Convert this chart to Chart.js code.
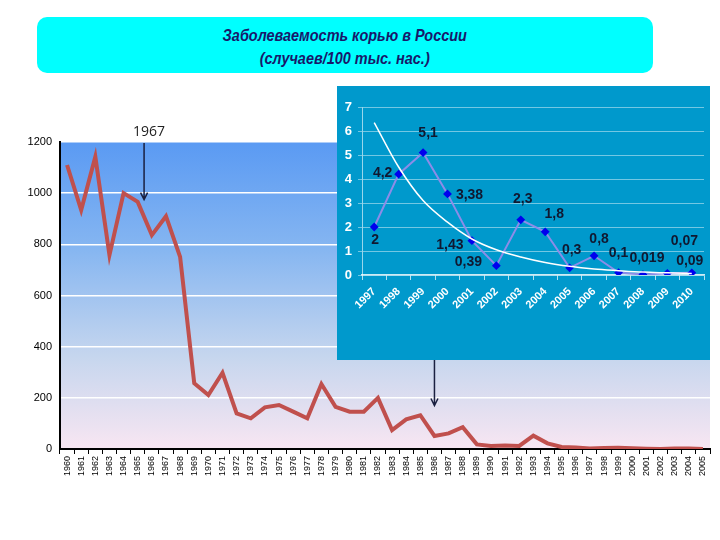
<!DOCTYPE html>
<html>
<head>
<meta charset="utf-8">
<script src="https://cdn.jsdelivr.net/npm/chart.js@4/dist/chart.umd.min.js"></script>
<style>
  body { margin: 0; width: 720px; height: 540px; background: #fff; position: relative; overflow: hidden; font-family: Arial, "Liberation Sans", sans-serif; }
  #title { position: absolute; left: 37px; top: 17px; width: 616px; height: 56px; background: #00ffff; border-radius: 10px;
           color: #18186a; font: italic bold 17px Arial, "Liberation Sans", sans-serif; line-height: 23px; text-align: center; padding-top: 7px; box-sizing: border-box; }
  #title span { display: inline-block; transform: scaleX(0.85); }
  #mainWrap { position: absolute; left: 0; top: 0; width: 720px; height: 540px; }
  #insetWrap { position: absolute; left: 337px; top: 86px; width: 373px; height: 274px; background: #0099cc; }
</style>
</head>
<body>
<div id="mainWrap"><canvas id="mainChart" width="720" height="540"></canvas></div>
<div id="title"><span>Заболеваемость корью в России<br>(случаев/100 тыс. нас.)</span></div>
<div id="insetWrap"><canvas id="insetChart" width="373" height="274"></canvas></div>
<script>
// Main chart data: 1960-2005
const years = [];
for (let y = 1960; y <= 2005; y++) years.push(String(y));
const incidence = [
  1110, 934, 1142, 758, 1000, 966, 836, 910, 751, 257,
  211, 298, 139, 120, 163, 172, 146, 120, 254, 165,
  146, 146, 200, 74, 116, 132, 51, 61, 85, 18,
  12, 14, 12, 52, 22, 8, 6, 2, 4.2, 5.1,
  3.38, 1.43, 0.39, 2.3, 1.8, 0.3
];

// Inset data: 1997-2010
const insetYears = ['1997', '1998', '1999', '2000', '2001', '2002', '2003', '2004', '2005', '2006', '2007', '2008', '2009', '2010'];
const insetValues = [2, 4.2, 5.1, 3.38, 1.43, 0.39, 2.3, 1.8, 0.3, 0.8, 0.1, 0.019, 0.07, 0.09];
const trendValues = [6.35, 4.5, 3.1, 2.2, 1.5, 1.05, 0.75, 0.52, 0.36, 0.25, 0.18, 0.12, 0.09, 0.06];
// label offsets (dx, dy) from each point
const labelOffsets = [[1, 13], [-16, -1], [5, -19], [22, 1], [-22, 4], [-28, -3], [2, -21],
  [9, -18], [2, -18], [5, -17], [0, -19], [4, -16], [17, -32], [-2, -12]];

// gradient behind the main plot area
const bgPlugin = {
  id: 'bg',
  beforeDraw(chart) {
    const a = chart.chartArea, ctx = chart.ctx;
    const g = ctx.createLinearGradient(0, a.top, 0, a.bottom);
    g.addColorStop(0, '#5a9af3');
    g.addColorStop(0.35, '#86b6f1');
    g.addColorStop(0.7, '#c6d6ee');
    g.addColorStop(1, '#f8e6f2');
    ctx.save();
    ctx.fillStyle = g;
    ctx.fillRect(a.left, a.top, a.right - a.left, a.bottom - a.top);
    ctx.restore();
  }
};

function arrow(ctx, x, y1, y2) {
  ctx.beginPath();
  ctx.moveTo(x, y1);
  ctx.lineTo(x, y2);
  ctx.moveTo(x - 3.5, y2 - 7);
  ctx.lineTo(x, y2);
  ctx.lineTo(x + 3.5, y2 - 7);
  ctx.stroke();
}

const notesPlugin = {
  id: 'notes',
  afterDraw(chart) {
    const ctx = chart.ctx, xs = chart.scales.x, ys = chart.scales.y;
    ctx.save();
    ctx.strokeStyle = '#1a2040';
    ctx.lineWidth = 1.5;
    const x1 = xs.getPixelForValue(5.45);
    arrow(ctx, x1, chart.chartArea.top + 1, ys.getPixelForValue(975));
    const x2 = xs.getPixelForValue(26);
    arrow(ctx, x2, ys.getPixelForValue(350), ys.getPixelForValue(170));
    ctx.fillStyle = '#222';
    ctx.font = '14px "Open Sans", Arial, sans-serif';
    ctx.textAlign = 'center';
    ctx.textBaseline = 'middle';
    ctx.fillText('1967', x1 + 5, chart.chartArea.top - 10);
    ctx.restore();
  }
};

new Chart(document.getElementById('mainChart').getContext('2d'), {
  type: 'line',
  data: {
    labels: years,
    datasets: [{
      data: incidence,
      borderColor: '#c0504d',
      borderWidth: 4,
      pointRadius: 0,
      tension: 0,
      fill: false
    }]
  },
  options: {
    responsive: false,
    animation: false,
    layout: { padding: { top: 142, right: 10, left: 0, bottom: 56 } },
    plugins: { legend: { display: false }, tooltip: { enabled: false } },
    scales: {
      x: {
        offset: true,
        afterFit(s) { s.height = 35; },
        grid: { display: true, drawOnChartArea: false, drawTicks: true, tickLength: 5, color: '#000', offset: true },
        border: { display: true, color: '#000', width: 2 },
        ticks: { autoSkip: false, minRotation: 90, maxRotation: 90, color: '#000', padding: 2,
                 font: { family: 'Arial, "Liberation Sans", sans-serif', size: 9 } }
      },
      y: {
        min: 0, max: 1200,
        afterFit(s) { s.width = 60; },
        grid: { color: '#ffffff', lineWidth: 1.5, drawTicks: false },
        border: { display: true, color: '#000', width: 2 },
        ticks: { stepSize: 200, color: '#000', padding: 8,
                 callback: v => String(v),
                 font: { family: 'Arial, "Liberation Sans", sans-serif', size: 11 } }
      }
    }
  },
  plugins: [bgPlugin, notesPlugin]
});

// value labels on the inset
const insetLabels = {
  id: 'insetLabels',
  afterDatasetsDraw(chart) {
    const ctx = chart.ctx, meta = chart.getDatasetMeta(1);
    ctx.save();
    ctx.fillStyle = '#101830';
    ctx.font = 'bold 14px Arial, "Liberation Sans", sans-serif';
    ctx.textAlign = 'center';
    ctx.textBaseline = 'middle';
    meta.data.forEach((pt, i) => {
      const txt = String(insetValues[i]).replace('.', ',');
      ctx.fillText(txt, pt.x + labelOffsets[i][0], pt.y + labelOffsets[i][1]);
    });
    ctx.restore();
  }
};

new Chart(document.getElementById('insetChart').getContext('2d'), {
  type: 'line',
  data: {
    labels: insetYears,
    datasets: [{
      data: trendValues,
      borderColor: '#ffffff',
      borderWidth: 1.5,
      pointRadius: 0,
      cubicInterpolationMode: 'monotone',
      fill: false
    }, {
      data: insetValues,
      borderColor: '#8c8ce8',
      borderWidth: 2,
      pointStyle: 'rectRot',
      pointRadius: 3,
      pointBackgroundColor: '#0000ee',
      pointBorderColor: '#0000ee',
      tension: 0,
      fill: false
    }]
  },
  options: {
    responsive: false,
    animation: false,
    layout: { padding: { top: 21, right: 2, left: 0, bottom: 35 } },
    plugins: { legend: { display: false }, tooltip: { enabled: false } },
    scales: {
      x: {
        offset: true,
        afterFit(s) { s.height = 50; },
        grid: { display: true, drawOnChartArea: false, tickLength: 5, color: 'rgba(255,255,255,0.7)', offset: true },
        border: { display: true, color: 'rgba(255,255,255,0.8)', width: 1.5 },
        ticks: { autoSkip: false, minRotation: 45, maxRotation: 45, color: '#ffffff', padding: 5,
                 font: { family: 'Arial, "Liberation Sans", sans-serif', size: 11, weight: 'bold' } }
      },
      y: {
        min: 0, max: 7,
        afterFit(s) { s.width = 25; },
        grid: { color: 'rgba(255,255,255,0.45)', lineWidth: 1, tickLength: 4 },
        border: { display: true, color: 'rgba(255,255,255,0.6)', width: 1 },
        ticks: { stepSize: 1, color: '#ffffff', padding: 6,
                 font: { family: 'Arial, "Liberation Sans", sans-serif', size: 13, weight: 'bold' } }
      }
    }
  },
  plugins: [insetLabels]
});
</script>
</body>
</html>
